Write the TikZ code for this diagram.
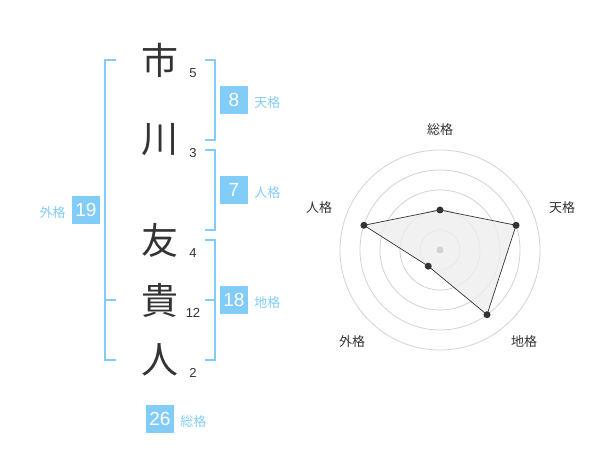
\documentclass[tikz,border=0pt]{standalone}
\usepackage{fontspec}
\setmainfont{Liberation Sans}
\newfontfamily\jpfont{Noto Sans CJK JP}
\usetikzlibrary{positioning}
\definecolor{kakublue}{RGB}{130,204,248}
\definecolor{inkgray}{RGB}{51,51,51}
\definecolor{ringgray}{RGB}{210,210,210}
\definecolor{areagray}{RGB}{238,238,238}

\begin{document}
\begin{tikzpicture}[
	x = 1pt, y = -1pt,
	kanji/.style = {font=\jpfont\fontsize{37}{37}\selectfont, text=inkgray, inner sep=0pt},
	strokes/.style = {font=\fontsize{13}{13}\selectfont, text=inkgray, inner sep=0pt},
	kakubox/.style = {fill=kakublue, text=white, minimum size=28pt, inner sep=0pt, font=\fontsize{19}{19}\selectfont},
	kakuname/.style = {font=\jpfont\fontsize{13}{13}\selectfont, text=kakublue, inner sep=0pt, yshift=-3pt},
	bracket/.style = {draw=kakublue, line width=2pt},
	axisname/.style = {font=\jpfont\fontsize{13}{13}\selectfont, text=inkgray, inner sep=0pt},
	ring/.style = {draw=ringgray, line width=0.8pt},
	dot/.style = {circle, fill=inkgray, inner sep=0pt, minimum size=7pt}
	]
	\useasboundingbox (0,0) rectangle (600,470);
	% name
	\node[kanji] (k1) at (160,60)  {市};
	\node[kanji] (k2) at (160,140) {川};
	\node[kanji] (k3) at (160,240) {友};
	\node[kanji] (k4) at (160,300) {貴};
	\node[kanji] (k5) at (160,360) {人};
	\node[strokes] (s1) at (193,73)  {5};
	\node[strokes] (s2) at (193,153) {3};
	\node[strokes] (s3) at (193,253) {4};
	\node[strokes] (s4) at (193,313) {12};
	\node[strokes] (s5) at (193,373) {2};
	% brackets
	\draw[bracket] (116,60) -- (105,60) -- (105,360) -- (116,360);
	\draw[bracket] (105,300) -- (116,300);
	\draw[bracket] (205,60) -- (215,60) -- (215,140) -- (205,140);
	\draw[bracket] (205,150) -- (215,150) -- (215,230) -- (205,230);
	\draw[bracket] (205,240) -- (215,240) -- (215,360) -- (205,360);
	\draw[bracket] (205,300) -- (215,300);
	% totals
	\node[kakubox] (ten)  at (234,100) {8};
	\node[kakubox] (jin)  at (234,190) {7};
	\node[kakubox] (chi)  at (234,300) {18};
	\node[kakubox] (gai)  at (86,210)  {19};
	\node[kakubox] (sou)  at (160,419) {26};
	\node[kakuname] [right=6pt of ten] {天格};
	\node[kakuname] [right=6pt of jin] {人格};
	\node[kakuname] [right=6pt of chi] {地格};
	\node[kakuname] [left=6pt of gai]  {外格};
	\node[kakuname] [right=6pt of sou] {総格};
	% radar
	\coordinate (ctr) at (440,250);
	\foreach \r in {20,40,...,100}
		\draw[ring] (ctr) circle[radius=\r pt];
	\path (ctr) ++(-90:40)  coordinate (v1)
	      (ctr) ++(-18:80)  coordinate (v2)
	      (ctr) ++(54:80)   coordinate (v3)
	      (ctr) ++(126:20)  coordinate (v4)
	      (ctr) ++(-162:80) coordinate (v5);
	\draw[fill=areagray, fill opacity=0.8, draw=inkgray, line width=0.7pt]
		(v1) -- (v2) -- (v3) -- (v4) -- (v5) -- cycle;
	\fill[ringgray] (ctr) circle[radius=3.5pt];
	\foreach \v in {v1,v2,v3,v4,v5}
		\node[dot] at (\v) {};
	\node[axisname] (a1) at (440,130) {総格};
	\node[axisname] (a2) at (562,208) {天格};
	\node[axisname] (a3) at (524,342) {地格};
	\node[axisname] (a4) at (352,342) {外格};
	\node[axisname] (a5) at (319,208) {人格};
\end{tikzpicture}
\end{document}
